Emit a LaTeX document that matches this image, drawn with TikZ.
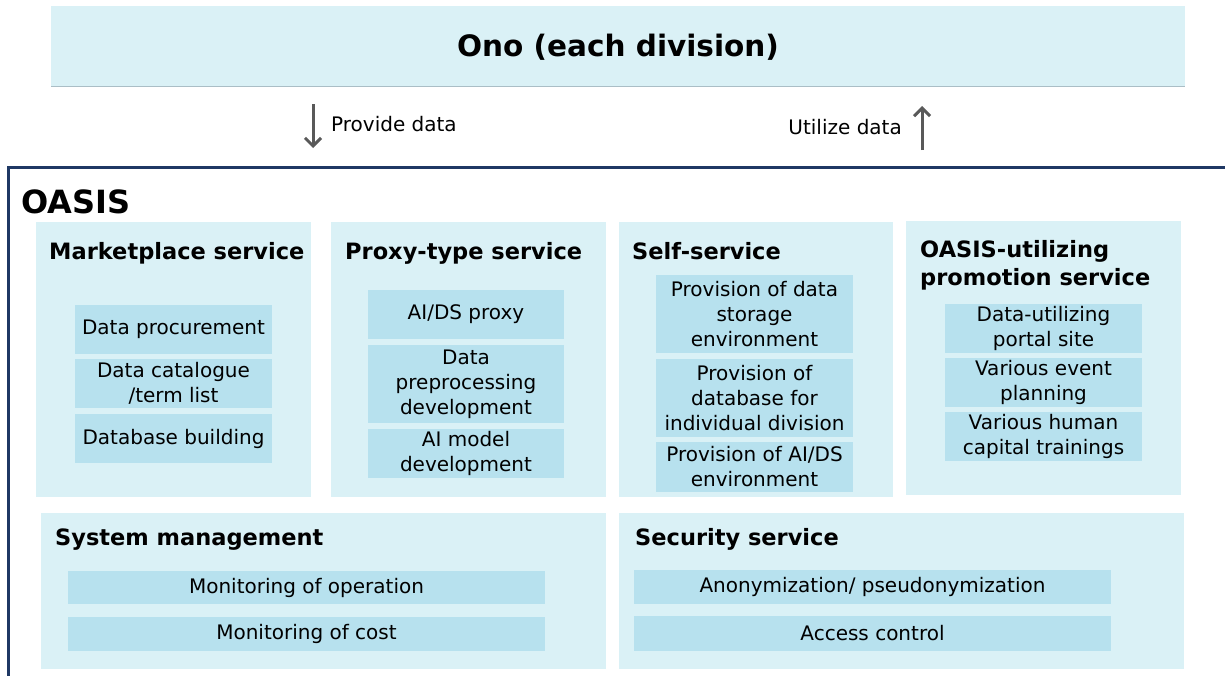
\documentclass[tikz,border=0pt]{standalone}
\usepackage{fontspec}
\setmainfont{DejaVu Sans}
\usetikzlibrary{arrows.meta}
\definecolor{outerfill}{RGB}{218,241,246}
\definecolor{itemfill}{RGB}{183,225,238}
\definecolor{framecol}{RGB}{31,56,100}
\definecolor{arrowgray}{RGB}{89,89,89}
\definecolor{edgegray}{RGB}{170,190,198}
\tikzset{
  panel/.style={fill=outerfill, draw=none, inner sep=0pt, anchor=north west},
  item/.style={fill=itemfill, draw=none, inner sep=0pt, align=center, text=black,
    font=\fontsize{20}{25}\selectfont},
  ttl/.style={font=\bfseries\fontsize{22.5}{28.5}\selectfont, anchor=base west, inner sep=0pt, align=left},
  flowarrow/.style={draw=arrowgray, line width=3pt, -{Straight Barb[length=8pt,width=16pt,line width=3pt]}},
  plain/.style={font=\fontsize{20}{24}\selectfont, inner sep=0pt}
}
\begin{document}
\begin{tikzpicture}[x=1pt,y=-1pt]
\useasboundingbox (0,0) rectangle (1225,675);
\fill[white] (0,0) rectangle (1225,675);
% top banner
\node[panel, minimum width=1134pt, minimum height=80pt] (ono) at (51,6) {};
\draw[edgegray, line width=1pt] (ono.south west) -- (ono.south east);
\node[font=\bfseries\fontsize{29.5}{34}\selectfont, inner sep=0pt] (onot) at (618,47) {Ono (each division)};
% arrows
\coordinate (a1s) at (313,104);
\coordinate (a1e) at (313,148);
\draw[flowarrow] (a1s) -- (a1e);
\node[plain, anchor=west] (prov) at (331,124) {Provide data};
\coordinate (a2s) at (922,150);
\coordinate (a2e) at (922,106);
\draw[flowarrow] (a2s) -- (a2e);
\node[plain, anchor=east] (util) at (902,127) {Utilize data};
% OASIS frame
\coordinate (f1) at (1230,167);
\coordinate (f2) at (8,167);
\coordinate (f3) at (8,680);
\draw[framecol, line width=3pt] (f1) -- (f2) -- (f3);
\node[font=\bfseries\fontsize{32}{36}\selectfont, anchor=base west, inner sep=0pt] (oasis) at (21,213) {OASIS};
% panels
\node[panel, minimum width=275pt, minimum height=275pt] (mkt) at (36,222) {};
\node[panel, minimum width=275pt, minimum height=275pt] (prx) at (331,222) {};
\node[panel, minimum width=274pt, minimum height=275pt] (slf) at (619,222) {};
\node[panel, minimum width=275pt, minimum height=274pt] (pro) at (906,221) {};
\node[panel, minimum width=565pt, minimum height=156pt] (sys) at (41,513) {};
\node[panel, minimum width=565pt, minimum height=156pt] (sec) at (619,513) {};
% titles
\node[ttl] (mktt) at (49,259) {Marketplace service};
\node[ttl] (prxt) at (345,259) {Proxy-type service};
\node[ttl] (slft) at (632,259) {Self-service};
\node[ttl, anchor=north west] (prot) at (920,240) {OASIS-utilizing\\promotion service};
\node[ttl] (syst) at (55,545) {System management};
\node[ttl] (sect) at (635,545) {Security service};
% marketplace items
\node[item, minimum width=197pt, minimum height=49pt] (m1) at (173.5,329.5) {Data procurement};
\node[item, minimum width=197pt, minimum height=49pt] (m2) at (173.5,383.5) {Data catalogue\\/term list};
\node[item, minimum width=197pt, minimum height=49pt] (m3) at (173.5,438.5) {Database building};
% proxy items
\node[item, minimum width=196pt, minimum height=49pt] (p1) at (466,314.5) {AI/DS proxy};
\node[item, minimum width=196pt, minimum height=78pt] (p2) at (466,384) {Data\\preprocessing\\development};
\node[item, minimum width=196pt, minimum height=49pt] (p3) at (466,453.5) {AI model\\development};
% self items
\node[item, minimum width=197pt, minimum height=78pt] (s1) at (754.5,314) {Provision of data\\storage\\environment};
\node[item, minimum width=197pt, minimum height=78pt] (s2) at (754.5,398) {Provision of\\database for\\individual division};
\node[item, minimum width=197pt, minimum height=50pt] (s3) at (754.5,467) {Provision of AI/DS\\environment};
% promotion items
\node[item, minimum width=197pt, minimum height=49pt] (o1) at (1043.5,328.5) {Data-utilizing\\portal site};
\node[item, minimum width=197pt, minimum height=49pt] (o2) at (1043.5,382.5) {Various event\\planning};
\node[item, minimum width=197pt, minimum height=49pt] (o3) at (1043.5,436.5) {Various human\\capital trainings};
% system management items
\node[item, minimum width=477pt, minimum height=33pt] (y1) at (306.5,587.5) {Monitoring of operation};
\node[item, minimum width=477pt, minimum height=34pt] (y2) at (306.5,634) {Monitoring of cost};
% security items
\node[item, minimum width=477pt, minimum height=34pt] (c1) at (872.5,587) {Anonymization/ pseudonymization};
\node[item, minimum width=477pt, minimum height=35pt] (c2) at (872.5,633.5) {Access control};
\end{tikzpicture}
\end{document}
